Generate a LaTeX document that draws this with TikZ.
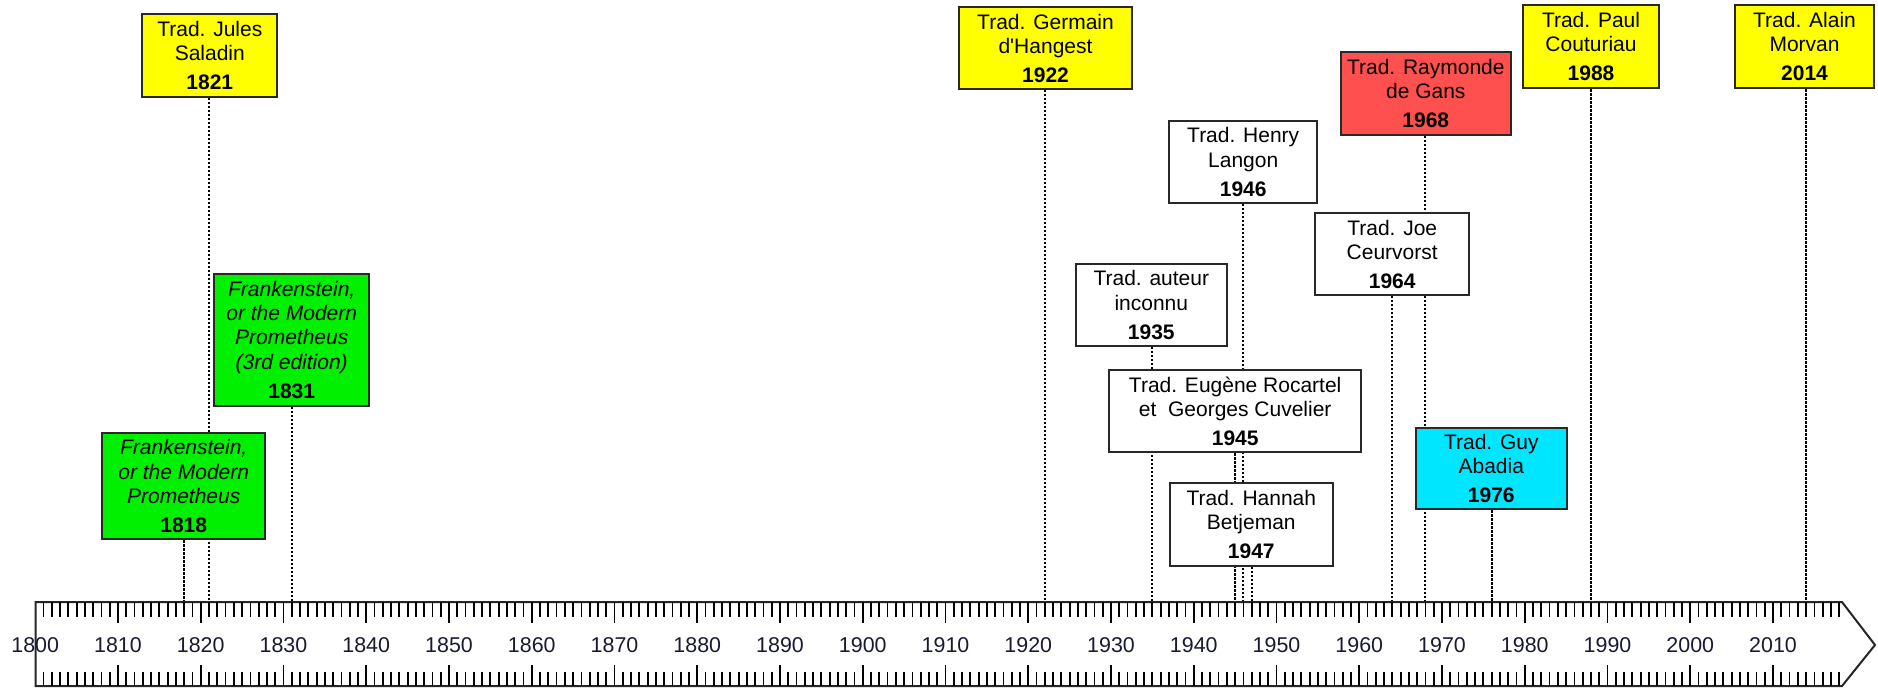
\documentclass[tikz,border=0pt]{standalone}
\usepackage{fontspec}
\setmainfont{Liberation Sans}[Ligatures=TeXOff]
\usetikzlibrary{backgrounds}
\definecolor{boxyellow}{RGB}{255,255,0}
\definecolor{boxgreen}{RGB}{0,240,0}
\definecolor{boxred}{RGB}{255,80,80}
\definecolor{boxcyan}{RGB}{0,230,255}
\definecolor{boxline}{RGB}{40,40,40}
\definecolor{labelcol}{RGB}{25,25,50}
\newcommand{\yr}[1]{\\[2.4pt]\textbf{#1}}
\begin{document}
\begin{tikzpicture}[x=0.5pt,y=-0.5pt,
  evbox/.style={draw=boxline, line width=1pt, align=center, inner sep=0pt,
    font=\fontsize{10.5}{12.1}\selectfont, text=black},
  leader/.style={draw=black, line width=1pt, dash pattern=on 1.1pt off 0.9pt},
  ticksty/.style={draw=black, line width=0.9pt},
  yearlab/.style={font=\fontsize{10.7}{12}\selectfont, text=labelcol, inner sep=0pt}]
\useasboundingbox (0,0) rectangle (1878,689);

% axis body
\draw[line width=1pt, draw=black!85, fill=white] (35.5,602) -- (1842,602) -- (1875,645) -- (1842,686) -- (35.5,686) -- cycle;
\foreach \y in {1801,...,2018}{
  \draw[ticksty] ({35.25+(\y-1800)*8.275},602) -- ++(0,14.5);
  \draw[ticksty] ({35.25+(\y-1800)*8.275},686) -- ++(0,-14.5);
}
\foreach \y in {1810,1820,...,2010}{
  \draw[ticksty] ({35.25+(\y-1800)*8.275},602) -- ++(0,21);
  \draw[ticksty] ({35.25+(\y-1800)*8.275},686) -- ++(0,-21);
}
\foreach \y in {1800,1810,...,2010}{
  \node[yearlab] (lab\y) at ({35.25+(\y-1800)*8.275},645) {\y};
}

% axis anchor points
\foreach \y in {1818,1821,1831,1922,1935,1945,1946,1947,1964,1968,1976,1988,2014}{
  \coordinate (y\y) at ({35.25+(\y-1800)*8.275},602);
}

% event boxes
\node[evbox, fill=boxyellow, minimum width=67.5pt, minimum height=41.3pt] (b1821) at (209.8,55.3)
  {Trad. Jules\\Saladin\yr{1821}};
\node[evbox, fill=boxgreen, minimum width=77.7pt, minimum height=65.8pt] (b1831) at (291.7,339.8)
  {\textit{Frankenstein,}\\\textit{or the Modern}\\\textit{Prometheus}\\\textit{(3rd edition)}\yr{1831}};
\node[evbox, fill=boxgreen, minimum width=81.3pt, minimum height=53.3pt] (b1818) at (183.7,486)
  {\textit{Frankenstein,}\\\textit{or the Modern}\\\textit{Prometheus}\yr{1818}};
\node[evbox, fill=boxyellow, minimum width=86.2pt, minimum height=41pt] (b1922) at (1045.5,48.3)
  {Trad. Germain\\d'Hangest\yr{1922}};
\node[evbox, fill=white, minimum width=74.2pt, minimum height=41pt] (b1946) at (1243.2,162)
  {Trad. Henry\\Langon\yr{1946}};
\node[evbox, fill=white, minimum width=75.3pt, minimum height=41pt] (b1935) at (1151.3,305)
  {Trad. auteur\\inconnu\yr{1935}};
\node[evbox, fill=white, minimum width=125.8pt, minimum height=41.2pt] (b1945) at (1235.2,411.2)
  {Trad. Eugène Rocartel\\et\ \ Georges Cuvelier\yr{1945}};
\node[evbox, fill=white, minimum width=81.3pt, minimum height=41.2pt] (b1947) at (1251.3,524.5)
  {Trad. Hannah\\Betjeman\yr{1947}};
\node[evbox, fill=white, minimum width=76.8pt, minimum height=40.8pt] (b1964) at (1392.2,254.2)
  {Trad. Joe\\Ceurvorst\yr{1964}};
\node[evbox, fill=boxred, minimum width=84.8pt, minimum height=41.3pt] (b1968) at (1425.8,93.7)
  {Trad. Raymonde\\de Gans\yr{1968}};
\node[evbox, fill=boxcyan, minimum width=75.3pt, minimum height=40.5pt] (b1976) at (1491.3,468.8)
  {Trad. Guy\\Abadia\yr{1976}};
\node[evbox, fill=boxyellow, minimum width=68.3pt, minimum height=41.7pt] (b1988) at (1591,46.7)
  {Trad. Paul\\Couturiau\yr{1988}};
\node[evbox, fill=boxyellow, minimum width=69.5pt, minimum height=41.7pt] (b2014) at (1804.5,46.7)
  {Trad. Alain\\Morvan\yr{2014}};

% leaders behind the boxes
\begin{scope}[on background layer]
\foreach \y in {1818,1821,1831,1922,1935,1945,1946,1947,1964,1968,1976,1988,2014}{
  \draw[leader] (b\y.south -| y\y) -- (y\y);
}
\end{scope}
\end{tikzpicture}
\end{document}
